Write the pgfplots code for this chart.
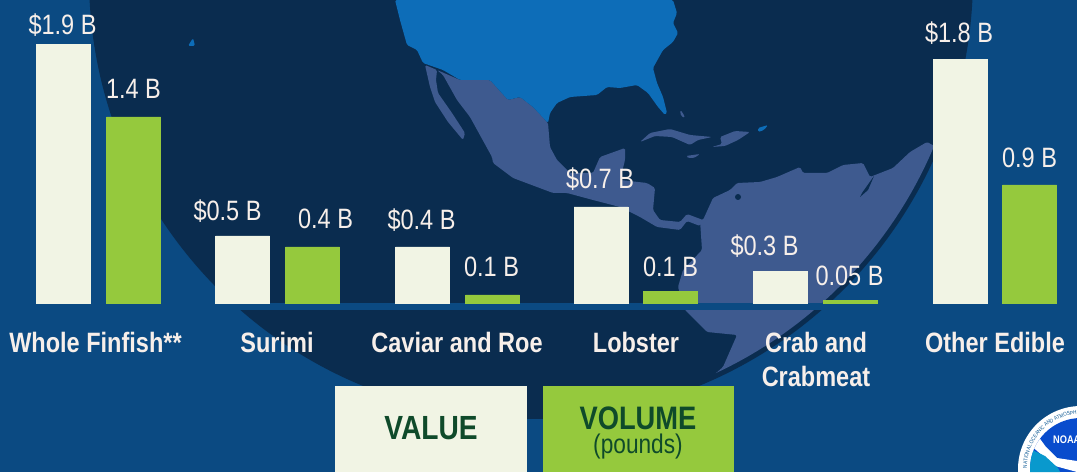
\documentclass[border=0pt]{standalone}
\usepackage{fontspec}
\setmainfont[FakeStretch=0.84]{Liberation Sans}
\usepackage{pgfplots}
\pgfplotsset{compat=1.18}
\usepackage{pgfplotstable}
\usetikzlibrary{decorations.text}

\definecolor{bg}{HTML}{0B4A82}
\definecolor{globe}{HTML}{0A2C4F}
\definecolor{land}{HTML}{3E5A8F}
\definecolor{usa}{HTML}{0D6DB8}
\definecolor{valbar}{HTML}{F1F4E4}
\definecolor{volbar}{HTML}{95C93D}
\definecolor{lbl}{HTML}{F7EFEA}
\definecolor{legtxt}{HTML}{0F4A2A}

% heights in billions, 136 px per billion
\pgfplotstableread[col sep=comma]{
x,y,label,dx,dy
63.5,1.904,{\$1.9 B},-1,10
242.5,0.493,{\$0.5 B},-15,15
422.5,0.412,{\$0.4 B},-1,17
601,0.706,{\$0.7 B},-1,18
780.5,0.235,{\$0.3 B},-16,16
960,1.794,{\$1.8 B},-1,17
}\valuetbl
\pgfplotstableread[col sep=comma]{
x,y,label,dx,dy
133.5,1.368,{1.4 B},0,18
312.5,0.412,{0.4 B},13,18
492.5,0.059,{0.1 B},-1,18
670.5,0.088,{0.1 B},0,15
850.5,0.022,{0.05 B},-1,15
1029.5,0.868,{0.9 B},0,17
}\volumetbl

\begin{document}
\begin{tikzpicture}
% backdrop in image pixels
\begin{scope}[x=1pt,y=-1pt,yshift=472pt]
\clip (0,0) rectangle (1077,472);
\fill[bg] (0,0) rectangle (1077,472);
\fill[globe] (531,-23) circle[radius=442pt];
\begin{scope}[rounded corners=1.5pt]
\clip (531,-23) circle[radius=437pt];
% south america
\fill[land] (703,220)--(713,198)--(730,190)--(737,183)--(760,182)--(777,177)--(800,167)--(803,173)--(827,173)--(843,165)--(863,163)--(870,177)--(893,168)--(910,152)--(927,142)--(960,160)--(900,430)--(700,430)--(700,387)--(723,367)--(737,335)--(707,332)--(685,310)--(678,287)--(683,270)--(702,250)--(700,220)--cycle;
\end{scope}
\fill[globe] (738,197) circle[radius=3pt];
\fill[globe] (862,193)--(874,176)--(868,190)--(860,197)--cycle;
\begin{scope}[rounded corners=1.5pt]
% mexico and central america
\fill[land] (437,70)--(460,80)--(490,80)--(508,100)--(520,97)--(533,107)--(548,123)--(550,147)--(557,160)--(570,173)--(593,173)--(600,157)--(625,148)--(625,160)--(620,180)--(647,183)--(655,188)--(653,210)--(660,220)--(680,222)--(687,214)--(703,220)--(700,226)--(687,221)--(680,230)--(657,227)--(640,217)--(620,207)--(593,200)--(567,193)--(553,193)--(513,178)--(493,163)--(492,157)--(470,117)--(457,100)--(443,75)--cycle;
% baja
\fill[land] (425,65)--(437,70)--(436,80)--(438,93)--(452,113)--(465,133)--(463,140)--(448,122)--(435,102)--(430,87)--cycle;
% caribbean
\fill[land] (640,142)--(650,133)--(670,129)--(690,135)--(712,137)--(698,140)--(690,145)--(672,137)--(655,136)--cycle;
\fill[land] (712,147)--(722,144)--(720,137)--(735,131)--(750,132)--(738,140)--(725,146)--cycle;
\fill[land] (686,156)--(700,154)--(694,158)--(688,158)--cycle;
\fill[land] (680,110)--(683,113)--(685,118)--(681,116)--cycle;
% usa
\fill[usa] (395,0)--(400,20)--(407,45)--(417,50)--(423,63)--(443,70)--(460,80)--(490,80)--(508,100)--(520,97)--(533,107)--(548,123)--(550,113)--(557,103)--(570,97)--(597,95)--(607,87)--(620,88)--(637,85)--(648,93)--(658,107)--(665,115)--(667,113)--(663,97)--(657,83)--(653,68)--(663,50)--(673,42)--(678,33)--(673,23)--(677,13)--(673,0)--cycle;
\fill[usa] (758,128)--(768,125)--(764,130)--(758,132)--cycle;
\fill[usa] (188,46)--(193,38)--(195,46)--cycle;
\end{scope}
% baseline band
\fill[bg] (0,303) rectangle (1077,310);
% noaa seal
\fill[white] (1081,469) circle[radius=63pt];
\begin{scope}
\clip (1081,469) circle[radius=51pt];
\fill[usa!70!blue] (1020,410) rectangle (1077,472);
\fill[white] (1035,432)--(1046,447)--(1057,458)--(1077,461)--(1077,472)--(1055,466)--(1030,445)--cycle;
\fill[usa!70!cyan] (1028,448)--(1045,456)--(1058,468)--(1060,472)--(1028,472)--cycle;
\end{scope}
\node[white,font=\fontsize{11}{11}\bfseries,anchor=base west,inner sep=0pt] at (1053,443) {NOAA};
\path[decorate,decoration={text along path,text align=left,text={|\fontsize{5.5}{5.5}\selectfont\color{usa!80!black}|NATIONAL OCEANIC AND ATMOSPHERIC}}] (1027,468) arc[start angle=180,end angle=90,radius=54pt];
\end{scope}

\begin{axis}[
  at={(0,0)},
  scale only axis,width=1077pt,height=472pt,
  xmin=0,xmax=1077,
  ymin=-1.2426,ymax=2.2279,
  axis line style={draw=none},
  ytick=\empty,
  xtick={95.5,277,457,636,816,995},
  xticklabels={{Whole Finfish**},{Surimi},{Caviar and Roe},{Lobster},{Crab and\\Crabmeat},{Other Edible}},
  xtick style={draw=none},
  major tick length=0pt,
  xticklabel style={font=\fontsize{28}{34}\selectfont\bfseries,text=lbl,align=center,yshift=140pt,inner sep=0pt},
  ybar,bar shift=0pt,bar width=54pt,
  point meta=explicit symbolic,
  visualization depends on={\thisrow{dx}\as\labeldx},
  visualization depends on={\thisrow{dy}\as\labeldy},
  nodes near coords,
  every node near coord/.append style={font=\fontsize{28}{28}\selectfont,text=lbl,anchor=base,inner sep=0pt,xshift=\labeldx pt,yshift=\labeldy pt},
]
\addplot[fill=valbar,draw=valbar] table[col sep=comma,x=x,y=y,meta=label]{\valuetbl};
\addplot[fill=volbar,draw=volbar] table[col sep=comma,x=x,y=y,meta=label]{\volumetbl};
\end{axis}

% key
\begin{scope}[x=1pt,y=-1pt,yshift=472pt]
\fill[valbar] (335,386) rectangle (527,472);
\fill[volbar] (543,386) rectangle (734,472);
\node[text=legtxt,font=\fontsize{33.5}{33.5}\selectfont\bfseries] at (431,428) {VALUE};
\node[text=legtxt,font=\fontsize{32.5}{32.5}\selectfont\bfseries] at (638,418) {VOLUME};
\node[text=legtxt,font=\fontsize{27}{27}\selectfont] at (638,447) {(pounds)};
\end{scope}
\end{tikzpicture}
\end{document}
